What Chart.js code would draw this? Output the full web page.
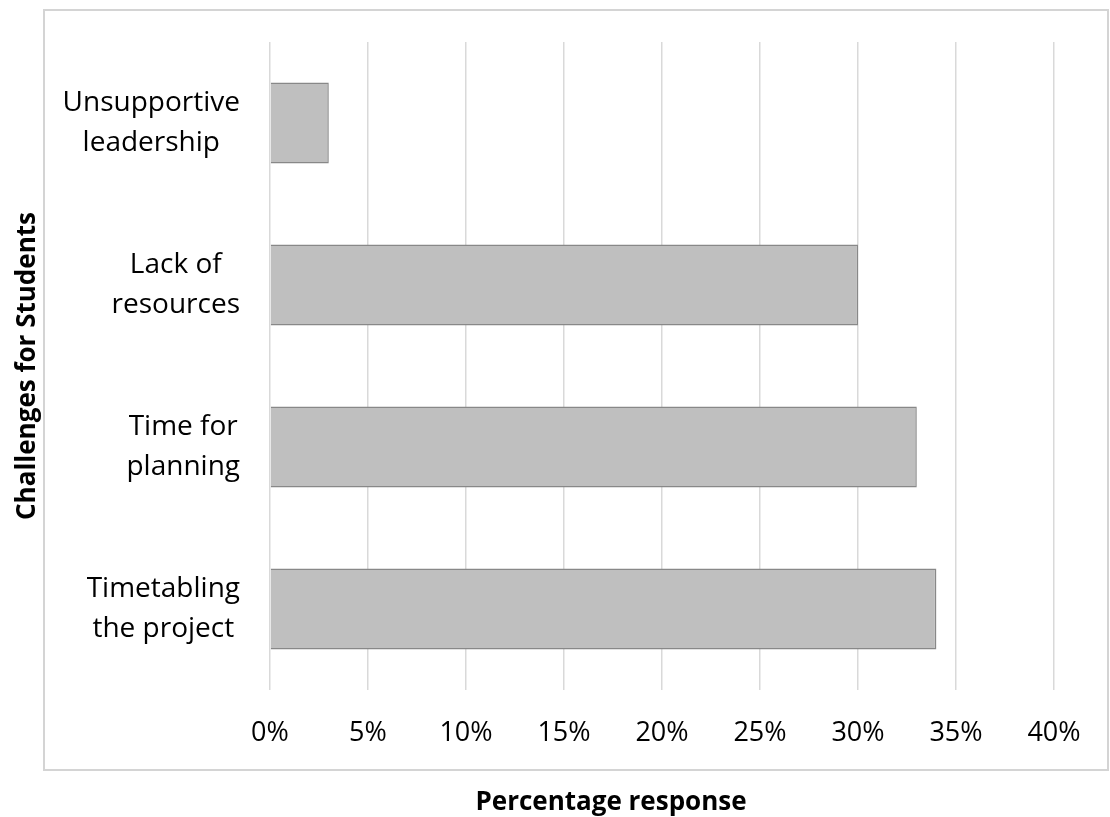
<!DOCTYPE html>
<html>
<head>
<meta charset="utf-8">
<script src="https://cdn.jsdelivr.net/npm/chart.js@4"></script>
<style>
  html, body { margin: 0; padding: 0; background: #fff; }
  #wrap { width: 1110px; height: 817px; }
</style>
</head>
<body>
<div id="wrap"><canvas id="chart"></canvas></div>
<script>
// dados do gráfico
const categories = [
  ["Unsupportive", "leadership"],
  ["Lack of", "resources"],
  ["Time for", "planning"],
  ["Timetabling", "the project"]
]
const percentValues = [3, 30, 33, 34]
const tickLabels = ["0%", "5%", "10%", "15%", "20%", "25%", "30%", "35%", "40%"]
const xTitle = "Percentage response"
const yTitle = "Challenges for Students"

const FONT = "'Open Sans', 'Noto Sans', sans-serif"

// moldura + rótulos das categorias + título do eixo x
const framePlugin = {
  id: "frame",
  beforeDraw(chart) {
    const ctx = chart.ctx
    ctx.save()
    ctx.strokeStyle = "#d4d4d4"
    ctx.lineWidth = 2
    ctx.strokeRect(44, 10, 1064, 760)
    ctx.restore()
  },
  afterDraw(chart) {
    const ctx = chart.ctx
    const yScale = chart.scales.y
    ctx.save()
    ctx.fillStyle = "#000"
    ctx.font = "28px " + FONT
    ctx.textAlign = "center"
    ctx.textBaseline = "middle"
    const rightEdge = yScale.right - 30
    chart.data.labels.forEach((lines, i) => {
      const cy = yScale.getPixelForValue(i)
      const maxW = Math.max(...lines.map((l) => ctx.measureText(l).width))
      const cx = rightEdge - maxW / 2
      lines.forEach((line, j) => {
        ctx.fillText(line, cx, cy + (j - (lines.length - 1) / 2) * 40)
      })
    })
    ctx.font = "bold 26px " + FONT
    ctx.textBaseline = "alphabetic"
    ctx.fillText(xTitle, 611, 810)
    ctx.restore()
  }
}

new Chart(document.getElementById("chart"), {
  type: "bar",
  data: {
    labels: categories,
    datasets: [
      {
        data: percentValues,
        backgroundColor: "#bfbfbf",
        borderColor: "#888888",
        borderWidth: 1.5,
        barPercentage: 0.5,
        categoryPercentage: 1
      }
    ]
  },
  options: {
    indexAxis: "y",
    responsive: true,
    maintainAspectRatio: false,
    animation: false,
    layout: { padding: { top: 42, right: 56, bottom: 0, left: 0 } },
    plugins: {
      legend: { display: false },
      tooltip: { enabled: false }
    },
    scales: {
      x: {
        min: 0,
        max: 40,
        border: { display: false },
        grid: { color: "#d9d9d9", lineWidth: 1.5, drawTicks: false },
        ticks: {
          stepSize: 5,
          padding: 27,
          color: "#000",
          font: { family: FONT, size: 27 },
          callback: (v) => tickLabels[v / 5]
        },
        afterFit: (scale) => { scale.height = 127 }
      },
      y: {
        border: { display: false },
        grid: { display: false },
        ticks: { display: false },
        title: {
          display: true,
          text: yTitle,
          color: "#000",
          font: { family: FONT, size: 26, weight: "bold" },
          padding: { top: 12, bottom: 0 }
        },
        afterFit: (scale) => { scale.width = 270 }
      }
    }
  },
  plugins: [framePlugin]
})
</script>
</body>
</html>
